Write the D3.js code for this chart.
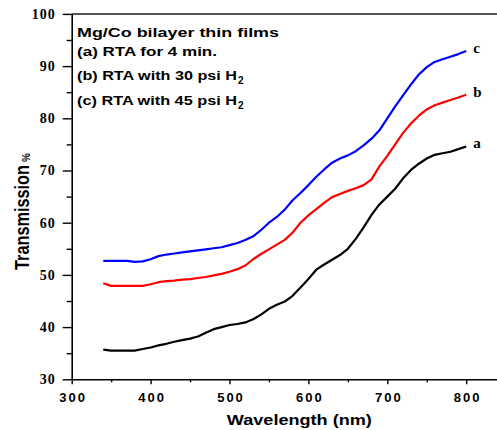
<!DOCTYPE html>
<html>
<head>
<meta charset="utf-8">
<script src="https://cdn.jsdelivr.net/npm/d3@7"></script>
<style>
  html, body { margin: 0; padding: 0; background: #fff; }
  svg { display: block; }
</style>
</head>
<body>
<div id="chart"></div>
<script>
// ---- data ----
const wavelength = [340,350,360,370,380,390,400,410,420,430,440,450,460,470,480,490,500,510,520,530,540,550,560,570,580,590,600,610,620,630,640,650,660,670,680,690,700,710,720,730,740,750,760,770,780,790,800];
// (a) RTA for 4 min. (black)
const seriesA = [35.7,35.5,35.5,35.5,35.5,35.8,36.1,36.5,36.8,37.2,37.5,37.8,38.2,38.9,39.6,40.0,40.4,40.6,40.9,41.5,42.4,43.5,44.3,44.9,46.0,47.6,49.2,51.0,52.0,52.9,53.8,55.0,56.9,59.1,61.5,63.5,65.0,66.5,68.5,70.1,71.3,72.3,73.0,73.3,73.6,74.1,74.6];
// (b) RTA with 30 psi H2 (red)
const seriesB = [48.4,47.9,47.9,47.9,47.9,47.9,48.2,48.6,48.8,48.9,49.1,49.2,49.4,49.6,49.9,50.2,50.6,51.1,51.8,53.0,54.0,54.9,55.8,56.7,58.1,60.0,61.4,62.6,63.8,64.9,65.5,66.1,66.6,67.2,68.3,70.8,72.8,75.0,77.2,79.0,80.5,81.7,82.5,83.0,83.5,84.0,84.5];
// (c) RTA with 45 psi H2 (blue)
const seriesC = [52.7,52.7,52.7,52.7,52.5,52.6,53.0,53.6,53.9,54.1,54.3,54.5,54.7,54.9,55.1,55.3,55.7,56.1,56.7,57.4,58.6,60.0,61.1,62.5,64.3,65.7,67.2,68.8,70.2,71.5,72.3,72.9,73.7,74.8,76.1,77.7,80.0,82.3,84.4,86.5,88.4,89.8,90.8,91.3,91.8,92.3,92.9];
const seriesLabels = ["a","b","c"];
const seriesColors = ["#000000","#ff0000","#0000ff"];
const legendLines = ["Mg/Co bilayer thin films","(a) RTA for 4 min.","(b) RTA with 30 psi H","(c) RTA with 45 psi H"];
const xTickLabels = [300,400,500,600,700,800];
const xMinorTicks = [350,450,550,650,750];
const yTickLabels = [30,40,50,60,70,80,90,100];
const yMinorTicks = [35,45,55,65,75,85,95];

// ---- layout ----
const W = 497, H = 430;
const svg = d3.select("#chart").append("svg").attr("width", W).attr("height", H);
svg.append("rect").attr("width", W).attr("height", H).attr("fill", "#fff");

const x = d3.scaleLinear().domain([300, 840]).range([71.7, 71.7 + 540 * 0.789]);
const y = d3.scaleLinear().domain([30, 100]).range([379.3, 13.9]);

// top frame line
svg.append("line").attr("x1", x(300)).attr("x2", W).attr("y1", y(100)).attr("y2", y(100))
  .attr("stroke", "#555").attr("stroke-width", 2);

// minor ticks
const gyMinor = svg.append("g").attr("transform", `translate(${x(300)},0)`)
  .call(d3.axisLeft(y).tickValues(yMinorTicks).tickSize(5).tickFormat(""));
gyMinor.select(".domain").remove();
const gxMinor = svg.append("g").attr("transform", `translate(0,${y(30)})`)
  .call(d3.axisBottom(x).tickValues(xMinorTicks).tickSize(3).tickFormat(""));
gxMinor.select(".domain").remove();

// major axes
const gy = svg.append("g").attr("transform", `translate(${x(300)},0)`)
  .call(d3.axisLeft(y).tickValues(yTickLabels).tickSize(9).tickPadding(7).tickSizeOuter(0).tickFormat(d3.format("d")));
gy.selectAll("text").attr("font-family", "'Liberation Serif', 'Times New Roman', serif")
  .attr("font-weight", "bold").attr("font-size", 14).attr("letter-spacing", 1).attr("fill", "#000");

const gx = svg.append("g").attr("transform", `translate(0,${y(30)})`)
  .call(d3.axisBottom(x).tickValues(xTickLabels).tickSize(5).tickPadding(8).tickSizeOuter(0).tickFormat(d3.format("d")));
gx.selectAll("text").attr("font-family", "'Liberation Sans', Arial, sans-serif")
  .attr("font-weight", "bold").attr("font-size", 13).attr("letter-spacing", 2).attr("dx", 1).attr("fill", "#000");

[gy, gx, gyMinor, gxMinor].forEach(g => {
  g.selectAll(".domain").attr("stroke", "#000").attr("stroke-width", 1.6);
  g.selectAll(".tick line").attr("stroke", "#000").attr("stroke-width", 1.4);
});

// ---- lines ----
const allSeries = [seriesA, seriesB, seriesC];
const line = d3.line().x((d, i) => x(wavelength[i])).y(d => y(d));
allSeries.forEach((s, k) => {
  svg.append("path").datum(s).attr("d", line)
    .attr("fill", "none").attr("stroke", seriesColors[k]).attr("stroke-width", 2.2)
    .attr("stroke-linejoin", "round");
  svg.append("text")
    .attr("x", x(wavelength[wavelength.length - 1]) + 7)
    .attr("y", y(s[s.length - 1]) + 2)
    .attr("font-family", "'Liberation Serif', 'Times New Roman', serif")
    .attr("font-weight", "bold").attr("font-size", 15).attr("fill", "#000")
    .text(seriesLabels[k]);
});

// ---- legend text ----
const legendY = [36.5, 56, 80, 105];
const legendLen = [202, 140, 160, 160];
legendLines.forEach((t, i) => {
  svg.append("text").attr("x", 77).attr("y", legendY[i])
    .attr("font-family", "'Liberation Sans', Arial, sans-serif")
    .attr("font-weight", "bold").attr("font-size", 13.5).attr("fill", "#000")
    .attr("textLength", legendLen[i]).attr("lengthAdjust", "spacingAndGlyphs")
    .text(t);
  if (i >= 2) {
    svg.append("text").attr("x", 77 + legendLen[i] + 1).attr("y", legendY[i] + 4)
      .attr("font-family", "'Liberation Sans', Arial, sans-serif")
      .attr("font-weight", "bold").attr("font-size", 10).attr("fill", "#000")
      .text("2");
  }
});

// ---- axis titles ----
svg.append("text").attr("x", (x(300) + W) / 2 + 15).attr("y", 425)
  .attr("text-anchor", "middle")
  .attr("font-family", "'Liberation Sans', Arial, sans-serif")
  .attr("font-weight", "bold").attr("font-size", 14).attr("fill", "#000")
  .attr("textLength", 145).attr("lengthAdjust", "spacingAndGlyphs")
  .text("Wavelength (nm)");

svg.append("text").attr("transform", "translate(29,270) rotate(-90)")
  .attr("font-family", "'Liberation Sans', Arial, sans-serif")
  .attr("font-weight", "bold").attr("font-size", 20).attr("fill", "#000")
  .attr("textLength", 105).attr("lengthAdjust", "spacingAndGlyphs")
  .text("Transmission");
svg.append("text").attr("transform", "translate(30,162) rotate(-90)")
  .attr("font-family", "'Liberation Sans', Arial, sans-serif")
  .attr("font-weight", "bold").attr("font-size", 10).attr("fill", "#000")
  .text("%");
</script>
</body>
</html>
